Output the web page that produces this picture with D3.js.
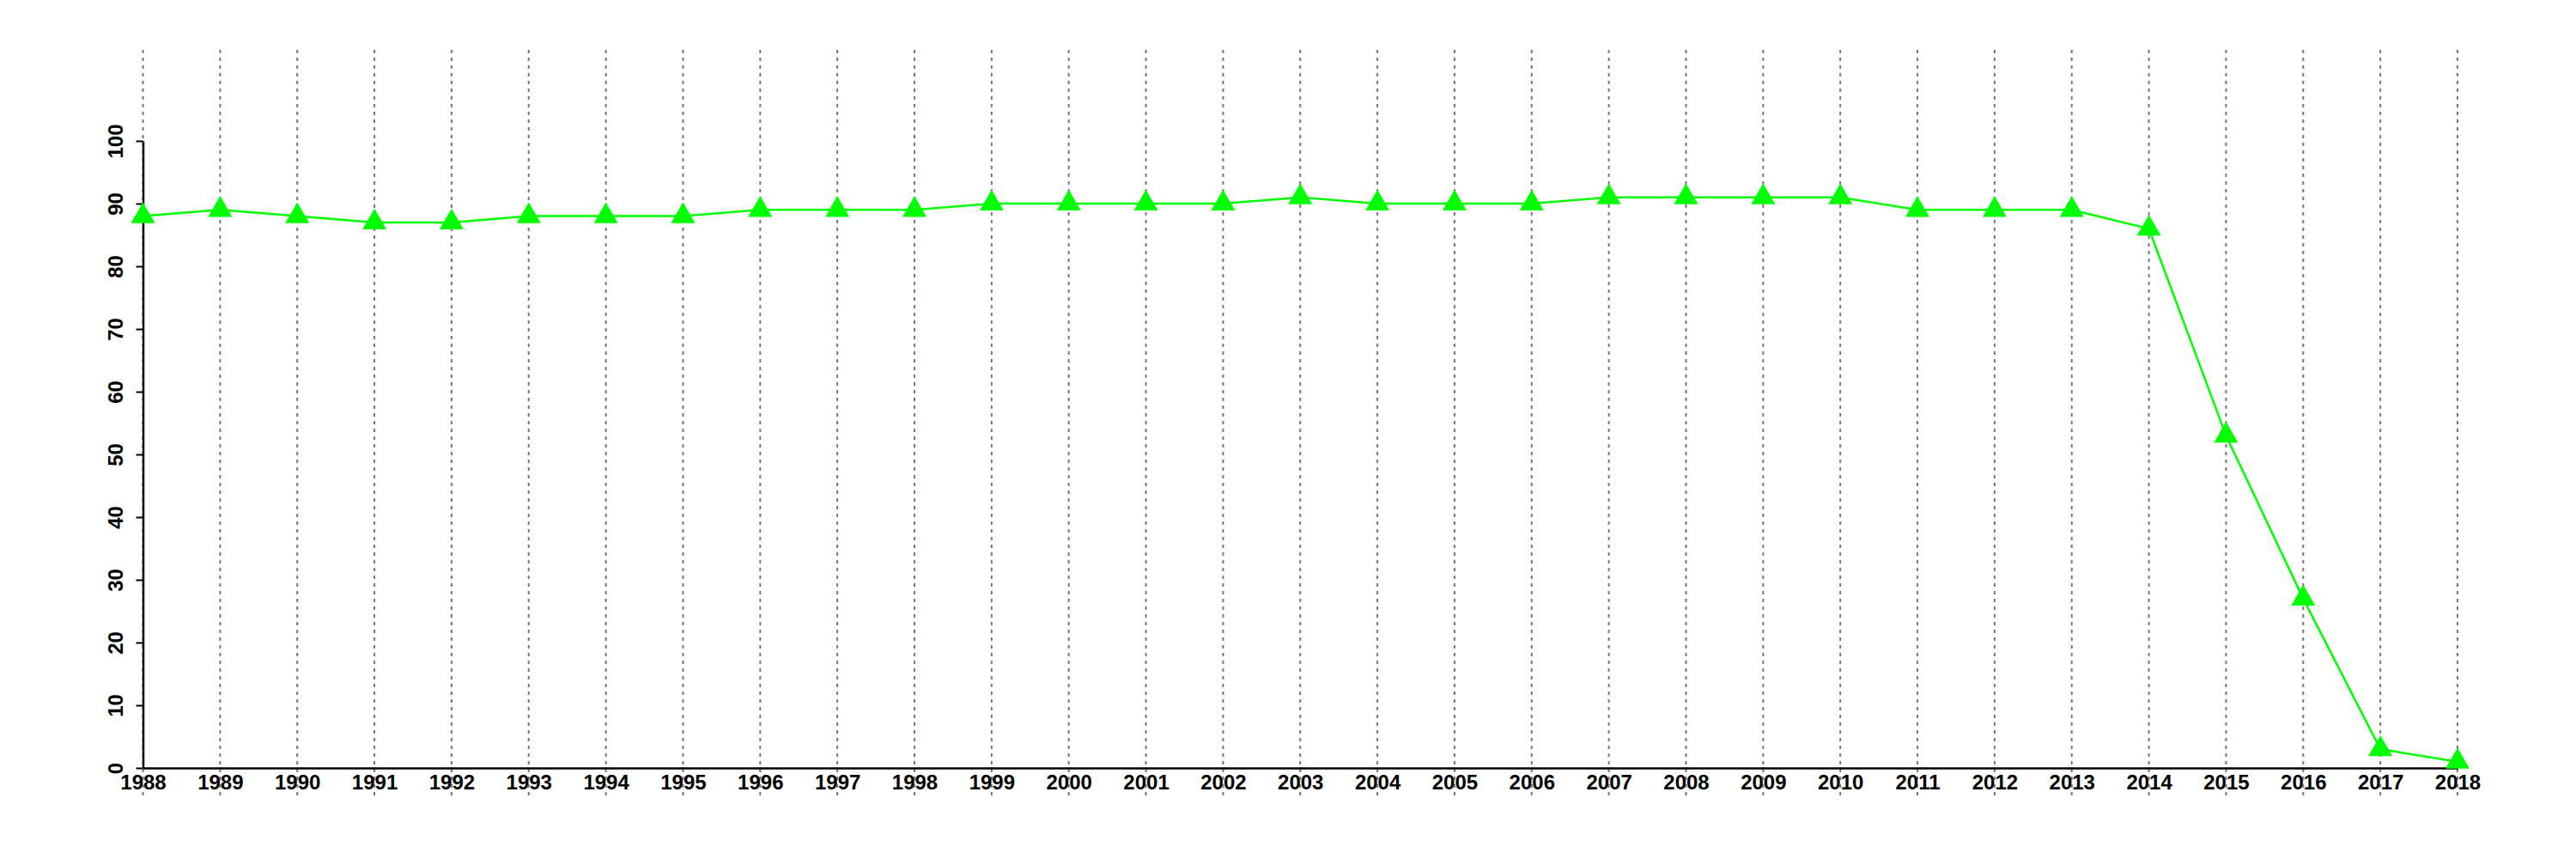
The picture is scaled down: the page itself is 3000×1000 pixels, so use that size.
<!DOCTYPE html>
<html>
<head>
<meta charset="utf-8">
<script src="https://cdn.jsdelivr.net/npm/d3@7"></script>
<style>
html,body{margin:0;padding:0;background:#fff;}
svg{display:block;}
</style>
</head>
<body>
<svg id="chart" width="3000" height="1000"></svg>
<script>
const years = [1988,1989,1990,1991,1992,1993,1994,1995,1996,1997,1998,1999,2000,2001,2002,2003,2004,2005,2006,2007,2008,2009,2010,2011,2012,2013,2014,2015,2016,2017,2018];
const values = [88,89,88,87,87,88,88,88,89,89,89,90,90,90,90,91,90,90,90,91,91,91,91,89,89,89,86,53,27,3,1];
const yTicks = [0,10,20,30,40,50,60,70,80,90,100];

const svg = d3.select("#chart");
const x = d3.scaleLinear().domain([1988, 2018]).range([166.5, 2862]);
const y = d3.scaleLinear().domain([0, 100]).range([894, 164]);

// vertical dotted gridlines
svg.append("g").selectAll("line").data(years).join("line")
  .attr("x1", d => x(d)).attr("x2", d => x(d))
  .attr("y1", 58).attr("y2", 928)
  .attr("stroke", "#777").attr("stroke-width", 2)
  .attr("stroke-dasharray", "4,5");

// axes
const xAxis = d3.axisBottom(x).tickValues(years).tickFormat(d3.format("d")).tickSize(0).tickPadding(8);
const gx = svg.append("g").attr("transform", "translate(0,894)").call(xAxis);
gx.select(".domain").attr("stroke", "#000").attr("stroke-width", 2.5);
gx.selectAll("text").attr("font-family", "Liberation Sans, Arial, sans-serif")
  .attr("font-size", 24).attr("font-weight", "bold").attr("fill", "#000");

const yAxis = d3.axisLeft(y).tickValues(yTicks).tickSize(8).tickSizeOuter(0).tickPadding(6);
const gy = svg.append("g").attr("transform", "translate(166.5,0)").call(yAxis);
gy.select(".domain").attr("stroke", "#000").attr("stroke-width", 2.5);
gy.selectAll(".tick line").attr("stroke", "#000").attr("stroke-width", 2);
gy.selectAll("text")
  .attr("font-family", "Liberation Sans, Arial, sans-serif")
  .attr("font-size", 24).attr("font-weight", "bold").attr("fill", "#000")
  .attr("text-anchor", "middle")
  .attr("x", null).attr("dy", null)
  .attr("transform", "translate(-24,0) rotate(-90)");

// line
const line = d3.line().x((d,i) => x(years[i])).y(d => y(d));
svg.append("path").datum(values)
  .attr("d", line).attr("fill", "none")
  .attr("stroke", "#00ff00").attr("stroke-width", 2.5);

// triangles
const sym = d3.symbol().type(d3.symbolTriangle).size(340);
svg.append("g").selectAll("path").data(values).join("path")
  .attr("d", sym)
  .attr("transform", (d,i) => `translate(${x(years[i])},${y(d)})`)
  .attr("fill", "#00ff00");
</script>
</body>
</html>
